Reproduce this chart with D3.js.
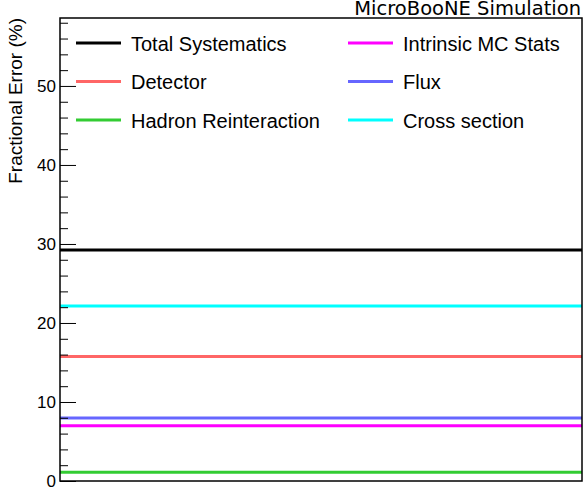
<!DOCTYPE html>
<html><head><meta charset="utf-8">
<script src="https://cdn.jsdelivr.net/npm/d3@7"></script>
<style>body{margin:0;background:#fff}svg{display:block}</style>
</head><body><svg id="c" width="585" height="490"></svg>
<script>
const seriesNames = ["Total Systematics","Detector","Hadron Reinteraction","Intrinsic MC Stats","Flux","Cross section"];
const seriesValues = [29.25, 15.75, 1.1, 7.0, 7.97, 22.15];
const seriesColors = ["#000000","#ff6666","#33cc33","#ff00ff","#6666ff","#00ffff"];
const yTicks = [0,10,20,30,40,50];
const yMax = 58.6;

const FONT = "Liberation Sans, Arial, sans-serif";
const svg = d3.select("#c");
const L=60, R=582, T=18, B=481;
const x = d3.scaleLinear().domain([0,1]).range([L,R]);
const y = d3.scaleLinear().domain([0,yMax]).range([B,T]);

// lines
seriesValues.forEach((v,i)=>{
  svg.append("line").attr("x1",x(0)).attr("x2",x(1)).attr("y1",y(v)).attr("y2",y(v))
    .attr("stroke",seriesColors[i]).attr("stroke-width",3);
});

// frame
svg.append("rect").attr("x",L).attr("y",T).attr("width",R-L).attr("height",B-T)
  .attr("fill","none").attr("stroke","#000").attr("stroke-width",1.5);

// y axis
const ax = d3.axisLeft(y).tickValues(yTicks).tickSize(-16).tickPadding(4).tickFormat(d3.format("d"));
const g = svg.append("g").attr("transform",`translate(${L},0)`).call(ax);
g.select(".domain").remove();
g.selectAll("text").style("font-size","17px").attr("fill","#000").style("font-family",FONT).attr("x",-4);
g.selectAll(".tick line").attr("stroke","#000");
const minor = d3.range(0,yMax,2).filter(v=>v%10!==0);
const ax2 = d3.axisLeft(y).tickValues(minor).tickSize(-8).tickFormat("");
const g2 = svg.append("g").attr("transform",`translate(${L},0)`).call(ax2);
g2.select(".domain").remove();
g2.selectAll(".tick line").attr("stroke","#000");

// y label
svg.append("text").attr("transform",`translate(22,${T}) rotate(-90)`).attr("text-anchor","end")
  .style("font-size","19px").style("font-family",FONT).text("Fractional Error (%)");

// title
svg.append("text").attr("x",581).attr("y",15).attr("text-anchor","end")
  .style("font-family","'DejaVu Sans'").style("font-size","19.5px").text("MicroBooNE Simulation");

// legend
const cols=[{lx:76,tx:131},{lx:348,tx:403}];
const rows=[43,81.5,120];
seriesNames.forEach((n,i)=>{
  const c=cols[Math.floor(i/3)], ry=rows[i%3];
  svg.append("line").attr("x1",c.lx).attr("x2",c.lx+45).attr("y1",ry).attr("y2",ry)
    .attr("stroke",seriesColors[i]).attr("stroke-width",3);
  svg.append("text").attr("x",c.tx).attr("y",ry+7.5).style("font-size","20px").style("font-family",FONT).text(n);
});
</script></body></html>
